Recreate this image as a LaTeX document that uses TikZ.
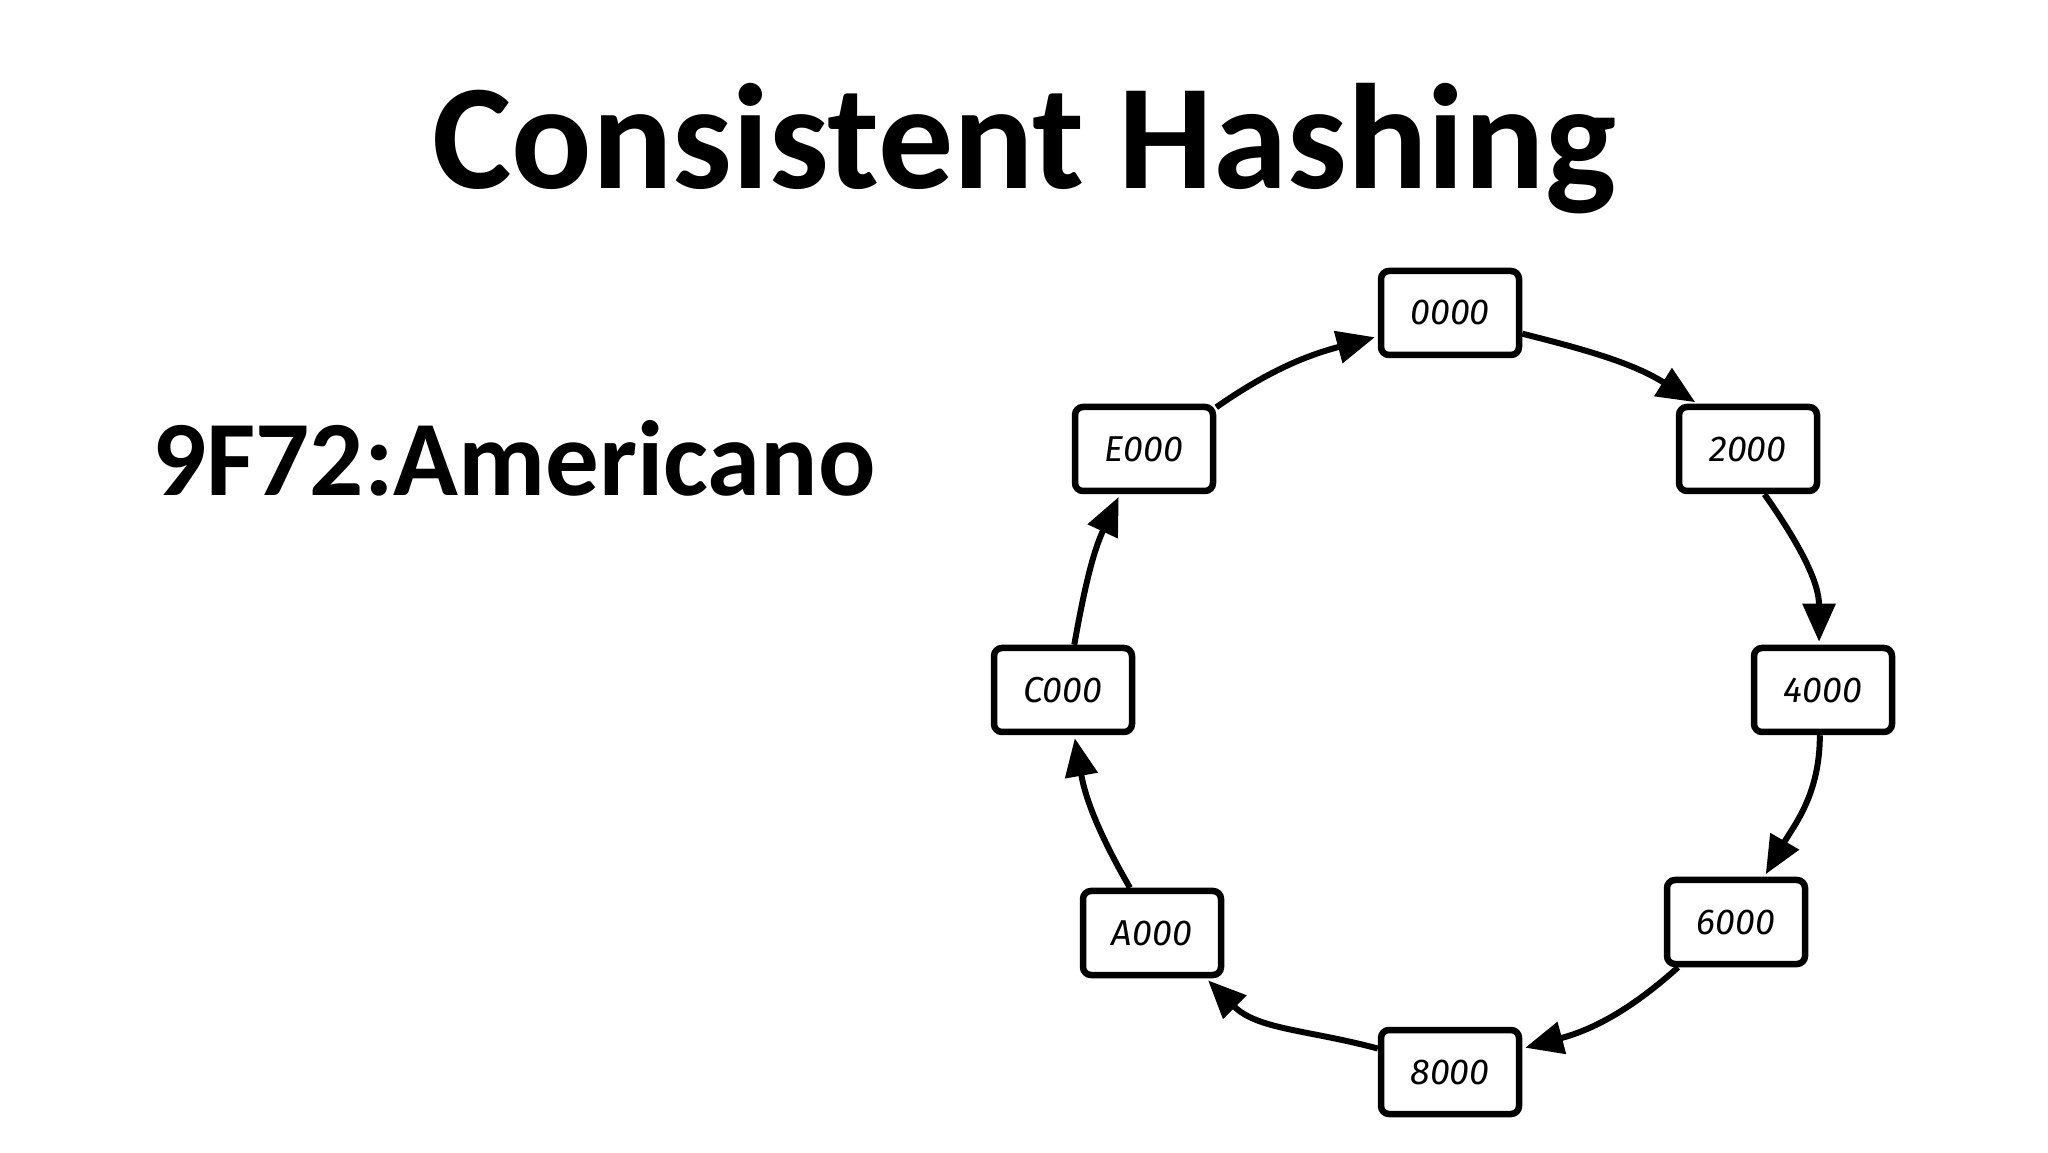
\documentclass[tikz,border=0pt]{standalone}
\usepackage{fontspec}
\setmainfont{Carlito}
\newfontfamily\handfont{Fira Sans}
\usetikzlibrary{arrows.meta}
\begin{document}
\begin{tikzpicture}[x=1pt,y=1pt,
  ringbox/.style={draw, line width=6.5pt, rounded corners=8pt, minimum width=138pt, minimum height=84pt, inner sep=0pt, font=\handfont\itshape\fontsize{36}{40}\selectfont},
  link/.style={line width=6pt, -{Triangle[length=38pt,width=32pt]}, shorten >=3pt}]
\useasboundingbox (0,0) rectangle (2048,1152);
\node[font=\bfseries\fontsize{150}{160}\selectfont, anchor=base] (title) at (1024,963) {Consistent Hashing};
\node[font=\bfseries\fontsize{107}{110}\selectfont, anchor=base west, inner sep=0pt] (key) at (152,656) {9F72:Americano};
\node[ringbox] (n0) at (1450,839) {0000};
\node[ringbox] (n2) at (1748,703) {2000};
\node[ringbox] (n4) at (1823,462) {4000};
\node[ringbox] (n6) at (1736,230) {6000};
\node[ringbox] (n8) at (1450,80) {8000};
\node[ringbox] (nA) at (1152,219) {A000};
\node[ringbox] (nC) at (1063,462) {C000};
\node[ringbox] (nE) at (1144,703) {E000};
\draw[link] (n0.-16) to[out=-14,in=148] (n2.138);
\draw[link] (n2.-70) to[out=-55,in=90] (n4.95);
\draw[link] (n4.-94) to[out=-90,in=60] (n6.58);
\draw[link] (n6.-142) to[out=-138,in=15] (n8.18);
\draw[link] (n8.162) to[out=165,in=-45] (nA.-40);
\draw[link] (nA.116) to[out=120,in=-80] (nC.-76);
\draw[link] (nC.76) to[out=80,in=-115] (nE.-118);
\draw[link] (nE.30) to[out=35,in=195] (n0.198);
\end{tikzpicture}
\end{document}
